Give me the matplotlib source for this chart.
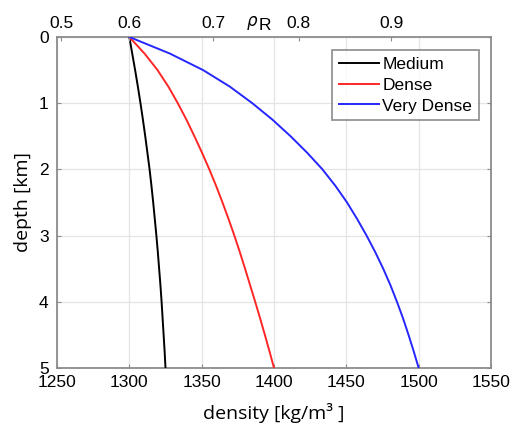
import matplotlib
matplotlib.use("Agg")
import matplotlib.pyplot as plt
from matplotlib.transforms import ScaledTranslation

# ---- data ----
depth_km = [0, 0.25, 0.5, 0.75, 1, 1.25, 1.5, 1.75, 2, 2.25, 2.5,
            2.75, 3, 3.25, 3.5, 3.75, 4, 4.25, 4.5, 4.75, 5]
medium = [1300, 1302, 1304, 1305.9, 1307.7, 1309.4, 1311, 1312.5, 1314, 1315.3, 1316.5,
          1317.6, 1318.7, 1319.7, 1320.6, 1321.5, 1322.3, 1323, 1323.7, 1324.4, 1325]
dense = [1300, 1310.5, 1319.5, 1327, 1333.5, 1339.5, 1345, 1350.3, 1355.3, 1360, 1364.4,
         1368.6, 1372.6, 1376.4, 1380, 1383.5, 1387, 1390.4, 1393.7, 1396.9, 1400]
very_dense = [1300, 1328, 1351, 1369.5, 1385, 1399, 1411.5, 1423, 1433.5, 1442.5, 1450.5,
              1457.5, 1464, 1470, 1475.5, 1480.5, 1485, 1489.2, 1493, 1496.6, 1500]
series_names = ["Medium", "Dense", "Very Dense"]

density_ticks = [1250, 1300, 1350, 1400, 1450, 1500, 1550]
depth_ticks = [0, 1, 2, 3, 4, 5]
rhoR_labels = ["0.5", "0.6", "0.7", "0.8", "0.9"]
rhoR_at_density = [1253, 1300, 1358, 1417, 1481]

# ---- styling ----
tick_font = "Liberation Sans"
label_font = "Open Sans"
spine_col = "#8c8c8c"
grid_col = "#e4e4e4"
fs = 12.5

fig = plt.figure(figsize=(5.17, 4.26), dpi=100)
ax = fig.add_axes([57/517, 1-368/426, (491-57)/517, (368-37)/426])

colors = ["black", "#ff2626", "#2626ff"]
for vals, name, c in zip([medium, dense, very_dense], series_names, colors):
    ax.plot(vals, depth_km, color=c, lw=1.4, label=name, zorder=3)

ax.set_xlim(density_ticks[0], density_ticks[-1])
ax.set_ylim(depth_ticks[-1], depth_ticks[0])
ax.set_xticks(density_ticks)
ax.set_yticks(depth_ticks)
ax.set_xticklabels([str(t) for t in density_ticks], fontfamily=tick_font, fontsize=fs)
ax.set_yticklabels([str(t) for t in depth_ticks], fontfamily=tick_font, fontsize=fs)
shift = ScaledTranslation(0, 2.5/72, fig.dpi_scale_trans)
for lab in ax.get_yticklabels():
    lab.set_transform(lab.get_transform() + shift)
ax.grid(True, color=grid_col, lw=0.9, zorder=0)
ax.tick_params(direction="in", length=3, color=spine_col, width=0.8,
               top=False, right=True)
ax.tick_params(axis="x", pad=5)
ax.tick_params(axis="y", pad=6)
for s in ax.spines.values():
    s.set_color(spine_col)
    s.set_linewidth(1.3)

ax.set_xlabel("density [kg/m³ ]", fontfamily=label_font, fontsize=14, va="top")
ax.xaxis.set_label_coords(0.5, -0.107)
ax.set_ylabel("depth [km]", fontfamily=label_font, fontsize=14, labelpad=5)

# top axis: relative density
ax2 = ax.twiny()
ax2.set_xlim(ax.get_xlim())
ax2.set_xticks(rhoR_at_density)
ax2.set_xticklabels(rhoR_labels, fontfamily=tick_font, fontsize=fs)
ax2.tick_params(direction="in", length=3, color=spine_col, width=0.8, pad=4)
for s in ax2.spines.values():
    s.set_visible(False)
fig.text(252/517, 1-21/426, "ρ", fontsize=12, ha="center", va="center",
         fontfamily="DejaVu Sans", style="italic")
fig.text(265/517, 1-25/426, "R", fontsize=fs, ha="center", va="center",
         fontfamily=tick_font)

leg = ax.legend(loc="upper right", bbox_to_anchor=(479/517, 1-50/426),
                bbox_transform=fig.transFigure,
                prop={"family": tick_font, "size": fs}, frameon=True,
                fancybox=False, handlelength=2.3, handletextpad=0.2,
                labelspacing=0.32, borderpad=0.4, borderaxespad=0)
leg.get_frame().set_edgecolor("#7a7a7a")
leg.get_frame().set_linewidth(1.3)
leg.set_zorder(5)

fig.savefig("out.png", dpi=100)
